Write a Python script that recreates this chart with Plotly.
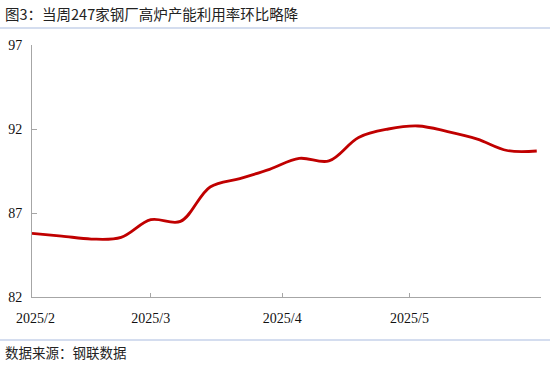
import plotly.graph_objects as go
import pandas as pd

dates = pd.date_range("2025-02-01", periods=18, freq="7D")
values = [85.79, 85.63, 85.45, 85.55, 86.6, 86.5, 88.55, 89.05, 89.6, 90.25,
          90.1, 91.5, 92.0, 92.18, 91.85, 91.4, 90.72, 90.69]
tick_dates = ["2025-02-01", "2025-03-01", "2025-04-01", "2025-05-01", "2025-06-01"]
tick_labels = ["  2025/2", "2025/3", "2025/4", "2025/5", ""]
y_ticks = [82, 87, 92, 97]

title = "图3：当周247家钢厂高炉产能利用率环比略降"
source = "数据来源：钢联数据"

L, R, T, B = 32, 541, 45, 297
W, H = R - L, B - T

fig = go.Figure()
fig.add_trace(go.Scatter(x=dates, y=values, mode="lines",
                         line=dict(color="#C00000", width=2.8, shape="spline", smoothing=1),
                         hoverinfo="skip"))

axis_color = "#a6a6a6"
fig.update_layout(
    width=550, height=366,
    margin=dict(l=L, r=550 - R, t=T, b=366 - B, autoexpand=False),
    paper_bgcolor="white", plot_bgcolor="white",
    showlegend=False,
    xaxis=dict(type="date", range=["2025-02-01", "2025-06-01"],
               tickvals=tick_dates, ticktext=tick_labels, automargin=False,
               showgrid=False, zeroline=False,
               showline=True, linecolor=axis_color, linewidth=1,
               ticks="inside", ticklen=4, tickcolor=axis_color,
               ticklabelstandoff=8,
               tickfont=dict(family="Liberation Serif", size=14, color="#111")),
    yaxis=dict(range=[82, 97], tickvals=y_ticks, automargin=False,
               showgrid=False, zeroline=False,
               showline=True, linecolor=axis_color, linewidth=1,
               ticks="inside", ticklen=5, tickcolor=axis_color,
               ticklabelstandoff=6,
               tickfont=dict(family="Liberation Serif", size=14, color="#111")),
    font=dict(family="Noto Sans CJK SC"),
)

fig.update_layout(annotations=[
    dict(text=title, xref="x domain", yref="y domain",
         x=(3 - L) / W, y=(B - 13) / H, xanchor="left", yanchor="middle",
         showarrow=False, font=dict(family="Noto Sans CJK SC", size=14.5, color="#222")),
    dict(text=source, xref="x domain", yref="y domain",
         x=(3 - L) / W, y=(B - 352) / H, xanchor="left", yanchor="middle",
         showarrow=False, font=dict(family="Noto Sans CJK SC", size=13.5, color="#222")),
])
fig.update_layout(shapes=[
    dict(type="line", xref="x domain", yref="y domain",
         x0=(0 - L) / W, x1=(550 - L) / W, y0=(B - 28) / H, y1=(B - 28) / H,
         line=dict(color="#a9bce0", width=1.2)),
    dict(type="line", xref="x domain", yref="y domain",
         x0=(0 - L) / W, x1=(550 - L) / W, y0=(B - 340) / H, y1=(B - 340) / H,
         line=dict(color="#a9bce0", width=1.2)),
])

fig.write_html("out.html", config={"displayModeBar": False},
               post_script="document.body.style.margin='0';document.body.style.padding='0';")
